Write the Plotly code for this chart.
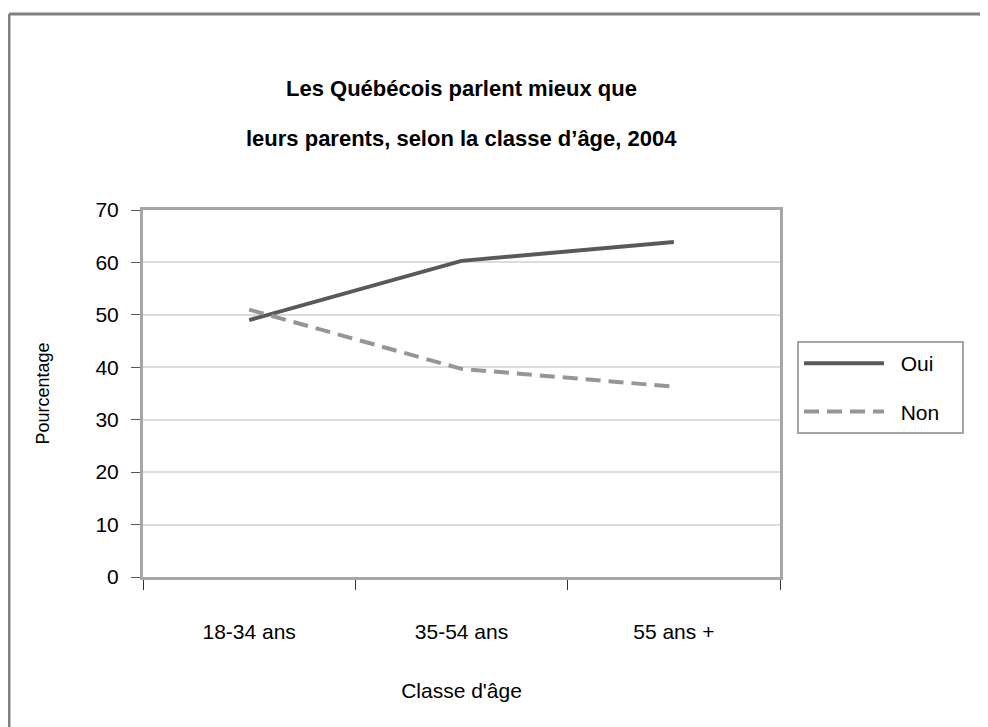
import plotly.graph_objects as go

# page pixels of the reference; the figure div sits 8px in from the page corner
OFF = 8
W, H = 988 - OFF, 727 - OFF
PL, PR, PT, PB = 143, 780, 210, 577   # plot area in page pixels
L, R, T, B = PL - OFF, W - (PR - OFF), PT - OFF, H - (PB - OFF)

classes = ["18-34 ans", "35-54 ans", "55 ans +"]
oui = [49, 60.3, 63.9]
non = [51, 39.7, 36.3]

FONT = "Liberation Sans, Arial"
NB = "\u00a0"

fig = go.Figure()
fig.add_trace(go.Scatter(x=classes, y=oui, name=NB * 2 + "Oui" + NB * 3, mode="lines", legendgroup="a",
                         line=dict(color="#595959", width=4)))
fig.add_trace(go.Scatter(x=classes, y=non, name=NB * 2 + "Non" + NB * 3, mode="lines", legendgroup="b",
                         line=dict(color="#969696", width=4, dash="15px,8px")))

pw, ph = PR - PL, PB - PT


def px_x(p):
    return (p - PL) / pw


def px_y(p):
    return (PB - p) / ph


# outer frame (left and top edges only visible)
fig.add_shape(type="line", xref="paper", yref="paper",
              x0=px_x(9), x1=px_x(1000), y0=px_y(14), y1=px_y(14),
              line=dict(color="#808080", width=3))
fig.add_shape(type="line", xref="paper", yref="paper",
              x0=px_x(9), x1=px_x(9), y0=px_y(14), y1=px_y(740),
              line=dict(color="#808080", width=3))

fig.add_annotation(text="<b>Les Québécois parlent mieux que</b>", xref="paper", yref="paper",
                   x=0.5, y=px_y(89), yanchor="middle", showarrow=False,
                   font=dict(size=22, color="black"))
fig.add_annotation(text="<b>leurs parents, selon la classe d’âge, 2004</b>", xref="paper", yref="paper",
                   x=0.5, y=px_y(138), yanchor="middle", showarrow=False,
                   font=dict(size=22, color="black"))

fig.update_layout(
    width=W, height=H,
    margin=dict(l=L, r=R, t=T, b=B),
    paper_bgcolor="white", plot_bgcolor="white",
    font=dict(family=FONT, color="black", size=21),
    showlegend=True,
    legend=dict(x=px_x(797), y=px_y(341), xanchor="left", yanchor="top",
                bordercolor="#a6a6a6", borderwidth=2, bgcolor="white",
                font=dict(size=21), itemwidth=80, tracegroupgap=18,
                traceorder="grouped"),
    xaxis=dict(range=[-0.5, 2.5], tickson="boundaries", ticks="outside", ticklen=10,
               tickcolor="#333333", tickwidth=1, showgrid=False,
               showline=True, mirror=True, linecolor="#a6a6a6", linewidth=3,
               tickfont=dict(size=21), ticklabelstandoff=34,
               title=dict(text="Classe d'âge", font=dict(size=21), standoff=42)),
    yaxis=dict(range=[0, 70], dtick=10, ticks="outside", ticklen=9,
               tickcolor="#555555", tickwidth=1,
               showgrid=True, gridcolor="#dcdcdc", gridwidth=2,
               showline=True, mirror=True, linecolor="#a6a6a6", linewidth=3,
               zeroline=False, tickfont=dict(size=21), ticklabelstandoff=8,
               title=dict(text="Pourcentage", font=dict(size=18), standoff=42)),
)

fig.write_html("out.html")
